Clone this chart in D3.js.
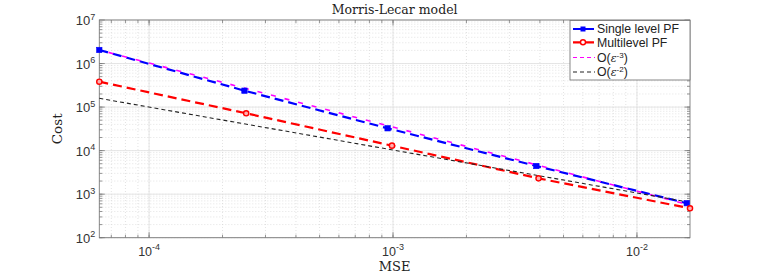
<!DOCTYPE html>
<html>
<head>
<meta charset="utf-8">
<script src="https://cdn.jsdelivr.net/npm/d3@7"></script>
<style>
  body { margin: 0; background: #fff; }
</style>
</head>
<body>
<div id="chart"></div>
<script>
// data
const singleMSE = [6.25e-5, 2.46e-4, 9.5e-4, 3.87e-3, 1.6e-2];
const singleCost = [2.05e6, 2.38e5, 3.26e4, 4.43e3, 6.2e2];
const multiMSE = [6.25e-5, 2.5e-4, 9.9e-4, 3.95e-3, 1.65e-2];
const multiCost = [3.83e5, 7.2e4, 1.3e4, 2.31e3, 4.73e2];
const refMSE = [6.25e-5, 1.65e-2];
const ref3Cost = [2.05e6, 5.6e2];
const ref2Cost = [1.59e5, 6.5e2];
const xTicks = [1e-4, 1e-3, 1e-2];
const xTickExp = ["-4", "-3", "-2"];
const yTicks = [1e2, 1e3, 1e4, 1e5, 1e6, 1e7];
const yTickExp = ["2", "3", "4", "5", "6", "7"];

const W = 763, H = 273;
const margin = { top: 20, right: 73, bottom: 35.3, left: 99.3 };
const width = W - margin.left - margin.right;
const height = H - margin.top - margin.bottom;

const svg = d3.select('#chart').append('svg')
    .attr('width', W).attr('height', H);
const g = svg.append('g')
    .attr('transform', 'translate(' + margin.left + ',' + margin.top + ')');

const x = d3.scaleLog().domain([6.25e-5, 1.65e-2]).range([0, width]);
const y = d3.scaleLog().domain([1e2, 1e7]).range([height, 0]);

// minor values
let xMinor = [];
for (let e = -5; e <= -2; e++) for (let k = 1; k <= 9; k++) {
    const v = k * Math.pow(10, e);
    if (v >= x.domain()[0] && v <= x.domain()[1]) xMinor.push(v);
}
let yMinor = [];
for (let e = 2; e <= 6; e++) for (let k = 1; k <= 9; k++) yMinor.push(k * Math.pow(10, e));

// grid
g.append('g').selectAll('line').data(xMinor).join('line')
    .attr('x1', d => x(d)).attr('x2', d => x(d)).attr('y1', 0).attr('y2', height)
    .attr('stroke', '#d0d0d0').attr('stroke-width', 0.6).attr('stroke-dasharray', '1,2');
g.append('g').selectAll('line').data(yMinor).join('line')
    .attr('y1', d => y(d)).attr('y2', d => y(d)).attr('x1', 0).attr('x2', width)
    .attr('stroke', '#d0d0d0').attr('stroke-width', 0.6).attr('stroke-dasharray', '1,2');
g.append('g').selectAll('line').data(xTicks).join('line')
    .attr('x1', d => x(d)).attr('x2', d => x(d)).attr('y1', 0).attr('y2', height)
    .attr('stroke', '#e2e2e2').attr('stroke-width', 0.9);
g.append('g').selectAll('line').data(yTicks).join('line')
    .attr('y1', d => y(d)).attr('y2', d => y(d)).attr('x1', 0).attr('x2', width)
    .attr('stroke', '#e2e2e2').attr('stroke-width', 0.9);

// box and inward ticks
g.append('rect').attr('width', width).attr('height', height)
    .attr('fill', 'none').attr('stroke', '#7a7a7a').attr('stroke-width', 0.9);

function ticksX(vals, len) {
    g.append('g').selectAll('path').data(vals).join('path')
        .attr('d', d => 'M' + x(d) + ',' + height + 'v' + (-len) + 'M' + x(d) + ',0v' + len)
        .attr('stroke', '#7a7a7a').attr('stroke-width', 0.8);
}
function ticksY(vals, len) {
    g.append('g').selectAll('path').data(vals).join('path')
        .attr('d', d => 'M0,' + y(d) + 'h' + len + 'M' + width + ',' + y(d) + 'h' + (-len))
        .attr('stroke', '#7a7a7a').attr('stroke-width', 0.8);
}
ticksX(xMinor, 3);
ticksX(xTicks, 5.5);
ticksY(yMinor, 3);
ticksY(yTicks, 5.5);

// tick labels
const xl = g.append('g').selectAll('text').data(xTicks).join('text')
    .attr('x', d => x(d)).attr('y', height + 18)
    .attr('text-anchor', 'middle')
    .attr('font-family', '"Liberation Sans", Arial, sans-serif')
    .attr('font-size', 12.5).attr('fill', '#333');
xl.append('tspan').text('10');
xl.append('tspan').attr('dy', -5.5).attr('font-size', 9).text((d, i) => xTickExp[i]);

const yl = g.append('g').selectAll('text').data(yTicks).join('text')
    .attr('x', -4).attr('y', d => y(d) + 5)
    .attr('text-anchor', 'end')
    .attr('font-family', '"Liberation Sans", Arial, sans-serif')
    .attr('font-size', 13).attr('fill', '#333');
yl.append('tspan').text('10');
yl.append('tspan').attr('dy', -5.5).attr('font-size', 9).text((d, i) => yTickExp[i]);

// axis labels and title
svg.append('text').attr('x', margin.left + width / 2).attr('y', 14)
    .attr('text-anchor', 'middle').attr('font-family', '"DejaVu Serif", serif')
    .attr('font-size', 12.5).attr('fill', '#222').text('Morris-Lecar model');
svg.append('text').attr('x', margin.left + width / 2).attr('y', 271)
    .attr('text-anchor', 'middle').attr('font-family', '"DejaVu Serif", serif')
    .attr('font-size', 13).attr('fill', '#222').text('MSE');
svg.append('text')
    .attr('transform', 'translate(62,' + (margin.top + height / 2) + ') rotate(-90)')
    .attr('text-anchor', 'middle').attr('font-family', '"DejaVu Serif", serif')
    .attr('font-size', 13.5).attr('fill', '#222').text('Cost');

// series
const line = d3.line().x(d => x(d[0])).y(d => y(d[1]));
const single = d3.zip(singleMSE, singleCost);
const multi = d3.zip(multiMSE, multiCost);
const ref3 = d3.zip(refMSE, ref3Cost);
const ref2 = d3.zip(refMSE, ref2Cost);

g.append('path').datum(single).attr('d', line).attr('fill', 'none')
    .attr('stroke', '#0000ff').attr('stroke-width', 2.2).attr('stroke-dasharray', '9,5');
g.append('path').datum(multi).attr('d', line).attr('fill', 'none')
    .attr('stroke', '#ff0000').attr('stroke-width', 2.2).attr('stroke-dasharray', '9,5');
g.append('path').datum(ref3).attr('d', line).attr('fill', 'none')
    .attr('stroke', '#ff00ff').attr('stroke-width', 1.6).attr('stroke-dasharray', '5,9')
    .attr('stroke-dashoffset', 4.5);
g.append('path').datum(ref2).attr('d', line).attr('fill', 'none')
    .attr('stroke', '#222').attr('stroke-width', 1.1).attr('stroke-dasharray', '4,3');

g.append('g').selectAll('rect').data(single).join('rect')
    .attr('x', d => x(d[0]) - 2.7).attr('y', d => y(d[1]) - 2.7)
    .attr('width', 5.4).attr('height', 5.4)
    .attr('fill', '#0000ff').attr('stroke', '#0000ff').attr('stroke-width', 0.6);
g.append('g').selectAll('circle').data(multi).join('circle')
    .attr('cx', d => x(d[0])).attr('cy', d => y(d[1])).attr('r', 2.6)
    .attr('fill', '#ffb0b0').attr('stroke', '#ff0000').attr('stroke-width', 1.4);

// legend
const legItems = [
    { color: '#0000ff', w: 2.2, dash: '9,3', marker: 'square', text: ['Single level PF'] },
    { color: '#ff0000', w: 2.2, dash: '9,3', marker: 'circle', text: ['Multilevel PF'] },
    { color: '#ff00ff', w: 1.2, dash: '4,3', marker: null, text: ['O(', 'ε', '-3', ')'] },
    { color: '#222', w: 1.1, dash: '4,3', marker: null, text: ['O(', 'ε', '-2', ')'] }
];
const legY = [29, 42.3, 57.5, 72];
const leg = svg.append('g');
leg.append('rect').attr('x', 570).attr('y', 20.5).attr('width', 120).attr('height', 59.5)
    .attr('fill', '#fff').attr('stroke', '#7a7a7a').attr('stroke-width', 0.9);
legItems.forEach((it, i) => {
    const yy = legY[i];
    leg.append('line').attr('x1', 573).attr('x2', 595).attr('y1', yy).attr('y2', yy)
        .attr('stroke', it.color).attr('stroke-width', it.w).attr('stroke-dasharray', it.dash);
    if (it.marker === 'square') {
        leg.append('rect').attr('x', 580.5).attr('y', yy - 2.5).attr('width', 5).attr('height', 5)
            .attr('fill', it.color);
    } else if (it.marker === 'circle') {
        leg.append('circle').attr('cx', 583).attr('cy', yy).attr('r', 2.5)
            .attr('fill', '#fff').attr('stroke', it.color).attr('stroke-width', 1.4);
    }
    const t = leg.append('text').attr('x', 597).attr('y', yy + 4.2)
        .attr('font-family', '"Liberation Sans", Arial, sans-serif')
        .attr('font-size', 12.3).attr('fill', '#222');
    if (it.text.length === 1) {
        t.text(it.text[0]);
    } else {
        t.append('tspan').text(it.text[0]);
        t.append('tspan').attr('font-family', '"DejaVu Serif", serif').attr('font-style', 'italic')
            .attr('font-size', 11).text(it.text[1]);
        t.append('tspan').attr('dy', -4).attr('font-size', 8).text(it.text[2]);
        t.append('tspan').attr('dy', 4).text(it.text[3]);
    }
});
</script>
</body>
</html>
